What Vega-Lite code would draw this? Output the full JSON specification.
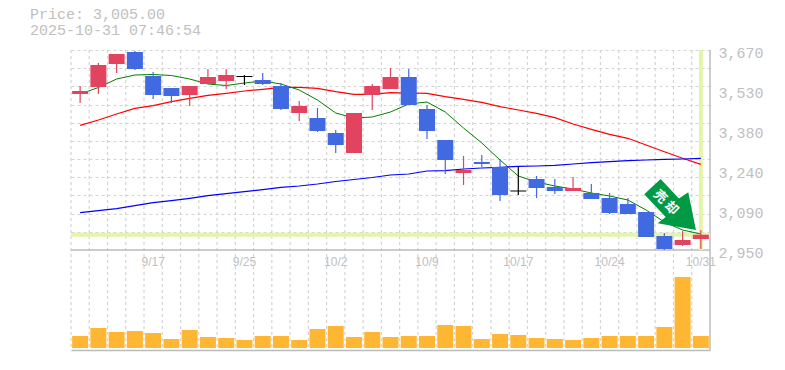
{"$schema":"https://vega.github.io/schema/vega-lite/v6.json","width":639,"height":300,"autosize":{"type":"none"},"padding":{"left":71,"top":50,"right":75,"bottom":20},"background":"white","config":{"view":{"stroke":null}},
"title":{"text":["Price: 3,005.00","2025-10-31 07:46:54"],"anchor":"start","frame":"group","dx":-41,"offset":7,"font":"Liberation Mono","fontSize":15,"fontWeight":"normal","color":"#c0c0c0","lineHeight":16},
"datasets":{"bars":[
{"d":"9/10","open":3511.6,"close":3522.4,"high":3540.4,"low":3479.2,"dir":"up","vol":12,"ma1":3511.6,"ma2":3398.9,"ma3":3084.3},
{"d":"9/11","open":3536.8,"close":3616,"high":3623.2,"low":3511.6,"dir":"up","vol":20,"ma1":3535,"ma2":3418,"ma3":3091.5},
{"d":"9/12","open":3619.6,"close":3655.6,"high":3655.6,"low":3587.2,"dir":"up","vol":16,"ma1":3565.6,"ma2":3439.6,"ma3":3098.7},
{"d":"9/16","open":3662.8,"close":3601.6,"high":3666.4,"low":3598,"dir":"down","vol":17,"ma1":3580,"ma2":3460.1,"ma3":3109.5},
{"d":"9/17","open":3576.4,"close":3508,"high":3590.8,"low":3493.6,"dir":"down","vol":15,"ma1":3581.8,"ma2":3469.5,"ma3":3120.3},
{"d":"9/18","open":3533.2,"close":3504.4,"high":3533.2,"low":3479.2,"dir":"down","vol":9,"ma1":3578.2,"ma2":3483.9,"ma3":3127.5},
{"d":"9/19","open":3508,"close":3540.4,"high":3540.4,"low":3468.4,"dir":"up","vol":18,"ma1":3565.6,"ma2":3496.1,"ma3":3136.1},
{"d":"9/22","open":3547.6,"close":3572.8,"high":3601.6,"low":3547.6,"dir":"up","vol":11,"ma1":3547.6,"ma2":3506.9,"ma3":3145.5},
{"d":"9/24","open":3558.4,"close":3580,"high":3601.6,"low":3529.6,"dir":"up","vol":10,"ma1":3542.2,"ma2":3514.1,"ma3":3152.7},
{"d":"9/25","open":3576.4,"close":3572.8,"high":3580,"low":3544,"dir":"flat","vol":8,"ma1":3551.2,"ma2":3522.4,"ma3":3159.9},
{"d":"9/26","open":3562,"close":3547.6,"high":3587.2,"low":3544,"dir":"down","vol":12,"ma1":3558.4,"ma2":3528.5,"ma3":3167.1},
{"d":"9/29","open":3540.4,"close":3457.6,"high":3551.2,"low":3454,"dir":"down","vol":12,"ma1":3547.6,"ma2":3535.7,"ma3":3175.7},
{"d":"9/30","open":3443.2,"close":3468.4,"high":3486.4,"low":3414.4,"dir":"up","vol":8,"ma1":3526,"ma2":3535.7,"ma3":3180.4},
{"d":"10/1","open":3425.2,"close":3378.4,"high":3461.2,"low":3374.8,"dir":"down","vol":19,"ma1":3490,"ma2":3532.1,"ma3":3187.6},
{"d":"10/2","open":3371.2,"close":3328,"high":3382,"low":3299.2,"dir":"down","vol":22,"ma1":3443.2,"ma2":3519.9,"ma3":3196.6},
{"d":"10/3","open":3299.2,"close":3443.2,"high":3443.2,"low":3299.2,"dir":"up","vol":11,"ma1":3425.2,"ma2":3510.5,"ma3":3203.8},
{"d":"10/6","open":3508,"close":3540.4,"high":3547.6,"low":3454,"dir":"up","vol":16,"ma1":3428.8,"ma2":3510.5,"ma3":3211},
{"d":"10/7","open":3529.6,"close":3572.8,"high":3605.2,"low":3529.6,"dir":"up","vol":11,"ma1":3446.8,"ma2":3516.3,"ma3":3220},
{"d":"10/8","open":3572.8,"close":3472,"high":3601.6,"low":3472,"dir":"down","vol":12,"ma1":3475.6,"ma2":3515.2,"ma3":3223.6},
{"d":"10/9","open":3457.6,"close":3378.4,"high":3472,"low":3349.6,"dir":"down","vol":12,"ma1":3482.8,"ma2":3514.1,"ma3":3234.4},
{"d":"10/10","open":3346,"close":3274,"high":3346,"low":3223.6,"dir":"down","vol":23,"ma1":3446.8,"ma2":3501.9,"ma3":3235.5},
{"d":"10/14","open":3227.2,"close":3238,"high":3288.4,"low":3184,"dir":"up","vol":22,"ma1":3389.2,"ma2":3492.5,"ma3":3241.6},
{"d":"10/15","open":3266.8,"close":3259.6,"high":3292,"low":3248.8,"dir":"down","vol":9,"ma1":3335.2,"ma2":3481.7,"ma3":3245.2},
{"d":"10/16","open":3248.8,"close":3148,"high":3277.6,"low":3126.4,"dir":"down","vol":14,"ma1":3274,"ma2":3465.9,"ma3":3247.7},
{"d":"10/17","open":3164.2,"close":3160.6,"high":3248.8,"low":3148,"dir":"flat","vol":13,"ma1":3216.4,"ma2":3454,"ma3":3251.3},
{"d":"10/20","open":3205.6,"close":3173.2,"high":3216.4,"low":3137.2,"dir":"down","vol":10,"ma1":3194.8,"ma2":3442.1,"ma3":3252.4},
{"d":"10/21","open":3176.8,"close":3162.4,"high":3205.6,"low":3151.6,"dir":"down","vol":9,"ma1":3180.4,"ma2":3426.3,"ma3":3254.9},
{"d":"10/22","open":3162.4,"close":3173.2,"high":3212.8,"low":3162.4,"dir":"up","vol":8,"ma1":3169.6,"ma2":3403.6,"ma3":3259.6},
{"d":"10/23","open":3155.2,"close":3133.6,"high":3187.6,"low":3133.6,"dir":"down","vol":10,"ma1":3155.2,"ma2":3384.5,"ma3":3264.3},
{"d":"10/24","open":3137.2,"close":3083.2,"high":3155.2,"low":3079.6,"dir":"down","vol":12,"ma1":3144.4,"ma2":3366.5,"ma3":3267.9},
{"d":"10/27","open":3115.6,"close":3079.6,"high":3137.2,"low":3079.6,"dir":"down","vol":12,"ma1":3130,"ma2":3352.1,"ma3":3271.5},
{"d":"10/28","open":3086.8,"close":2996.8,"high":3086.8,"low":2996.8,"dir":"down","vol":12,"ma1":3094,"ma2":3328,"ma3":3274},
{"d":"10/29","open":3000.4,"close":2953.6,"high":3011.2,"low":2950,"dir":"down","vol":21,"ma1":3050.8,"ma2":3303.9,"ma3":3276.5},
{"d":"10/30","open":2968,"close":2986,"high":3018.4,"low":2964.4,"dir":"up","vol":71,"ma1":3022,"ma2":3280.1,"ma3":3277.6},
{"d":"10/31","open":2989.6,"close":3005,"high":3022,"low":2953.6,"dir":"up","vol":12,"ma1":3007.6,"ma2":3258.5,"ma3":3280.1}
]},
"data":{"name":"bars"},
"encoding":{"x":{"field":"d","type":"ordinal","sort":null,"title":null,"scale":{"type":"band","paddingInner":0,"paddingOuter":0,"domain":["9/10","9/11","9/12","9/16","9/17","9/18","9/19","9/22","9/24","9/25","9/26","9/29","9/30","10/1","10/2","10/3","10/6","10/7","10/8","10/9","10/10","10/14","10/15","10/16","10/17","10/20","10/21","10/22","10/23","10/24","10/27","10/28","10/29","10/30","10/31"]},
"axis":{"orient":"bottom","grid":false,"ticks":false,"labelAngle":0,"labelOverlap":false,"labelPadding":-94,"labelFont":"Liberation Sans","labelFontSize":12,"labelColor":"#c0c0c0","labelExpr":"indexof(['9/17','9/25','10/2','10/9','10/17','10/24','10/31'],datum.label)>=0?datum.label:''","domainColor":"#bbbbbb","domainWidth":1.5,"title":null}}},
"resolve":{"scale":{"y":"independent"},"axis":{"y":"independent"}},
"layer":[
{"mark":{"type":"rule","color":"#d4d4d4","strokeWidth":1.2,"strokeDash":[3,3]},"encoding":{"x":{"field":"d","type":"ordinal","sort":null,"bandPosition":0}}},
{"data":{"values":[{"p":3670},{"p":2950}]},"mark":{"type":"rule","color":"#bbbbbb","strokeWidth":1.5,"opacity":0},
"encoding":{"x":{"value":0},"y":{"field":"p","type":"quantitative","scale":{"domain":[2950,3670],"range":[200,0]},"axis":{"orient":"left","values":[3670,3604.5,3539.1,3473.6,3408.2,3342.7,3277.3,3211.8,3146.4,3080.9,3015.5],"grid":true,"gridColor":"#d4d4d4","gridDash":[3,3],"gridWidth":1.2,"labels":false,"ticks":false,"domain":false,"title":null}}}},
{"data":{"values":[{"p":2950}]},"mark":{"type":"rule","color":"#bbbbbb","strokeWidth":1.5},
"encoding":{"x":{"value":0},"x2":{"value":639},"y":{"field":"p","type":"quantitative","scale":{"domain":[2950,3670],"range":[200,0]},"axis":null}}},
{"data":{"values":[{"d":"10/31"}]},"mark":{"type":"rule","color":"#bbbbbb","strokeWidth":1.5},
"encoding":{"x":{"field":"d","type":"ordinal","sort":null,"bandPosition":1}}},
{"data":{"values":[{"p":3005}]},"mark":{"type":"rule","color":"#e4f5a8","strokeWidth":4},
"encoding":{"x":{"value":0},"x2":{"value":639},"y":{"field":"p","type":"quantitative","scale":{"domain":[2950,3670],"range":[200,0]},"axis":null}}},
{"data":{"values":[{"d":"10/31","a":3670,"b":2950}]},"mark":{"type":"rule","color":"#e4f5a8","strokeWidth":4},
"encoding":{"y":{"field":"a","type":"quantitative","scale":{"domain":[2950,3670],"range":[200,0]},"axis":null},"y2":{"field":"b"}}},
{"mark":{"type":"bar","size":16,"color":"#ffb733"},"encoding":{"y":{"field":"vol","type":"quantitative","scale":{"domain":[0,71],"range":[298,227]},"axis":null}}},
{"mark":{"type":"line","color":"#008000","strokeWidth":1},"encoding":{"y":{"field":"ma1","type":"quantitative","scale":{"domain":[2950,3670],"range":[200,0]},"axis":null}}},
{"mark":{"type":"line","color":"#ff0000","strokeWidth":1.2},"encoding":{"y":{"field":"ma2","type":"quantitative","scale":{"domain":[2950,3670],"range":[200,0]},"axis":null}}},
{"mark":{"type":"line","color":"#0000ff","strokeWidth":1.2},"encoding":{"y":{"field":"ma3","type":"quantitative","scale":{"domain":[2950,3670],"range":[200,0]},"axis":{"orient":"right","values":[3670,3526,3382,3238,3094,2950],"grid":false,"ticks":false,"domain":false,"labelFont":"Liberation Mono","labelFontSize":15,"labelColor":"#c0c0c0","labelPadding":8,"labelOffset":2,"labelFlush":false,"labelOverlap":false,"labelExpr":"format(round(datum.value/10)*10,',')","title":null}}}},
{"mark":{"type":"rule","strokeWidth":1.2},"encoding":{"y":{"field":"high","type":"quantitative","scale":{"domain":[2950,3670],"range":[200,0]},"axis":null},"y2":{"field":"low"},"color":{"field":"dir","type":"nominal","legend":null,"scale":{"domain":["up","down","flat"],"range":["#e2435f","#4169e1","#000000"]}}}},
{"mark":{"type":"bar","size":16},"encoding":{"y":{"field":"open","type":"quantitative","scale":{"domain":[2950,3670],"range":[200,0]},"axis":null},"y2":{"field":"close"},"color":{"field":"dir","type":"nominal","legend":null,"scale":{"domain":["up","down","flat"],"range":["#e2435f","#4169e1","#000000"]}}}},
{"data":{"values":[{"d":"10/29","p":3112}]},"mark":{"type":"point","filled":true,"opacity":1,"color":"#009944","size":4096,"shape":"M-0.116,-0.8125L-0.628,-0.334L0.041,0.375L-0.209,0.572L0.9875,0.781L0.747,-0.397L0.456,-0.203Z"},
"encoding":{"y":{"field":"p","type":"quantitative","scale":{"domain":[2950,3670],"range":[200,0]},"axis":null}}},
{"data":{"values":[{"d":"10/29","p":3126,"t":"売 却"}]},"mark":{"type":"text","angle":45,"font":"Noto Sans CJK JP","fontWeight":"bold","fontSize":13,"color":"white","align":"center","baseline":"middle","dx":2},
"encoding":{"y":{"field":"p","type":"quantitative","scale":{"domain":[2950,3670],"range":[200,0]},"axis":null},"text":{"field":"t"}}}
]}
